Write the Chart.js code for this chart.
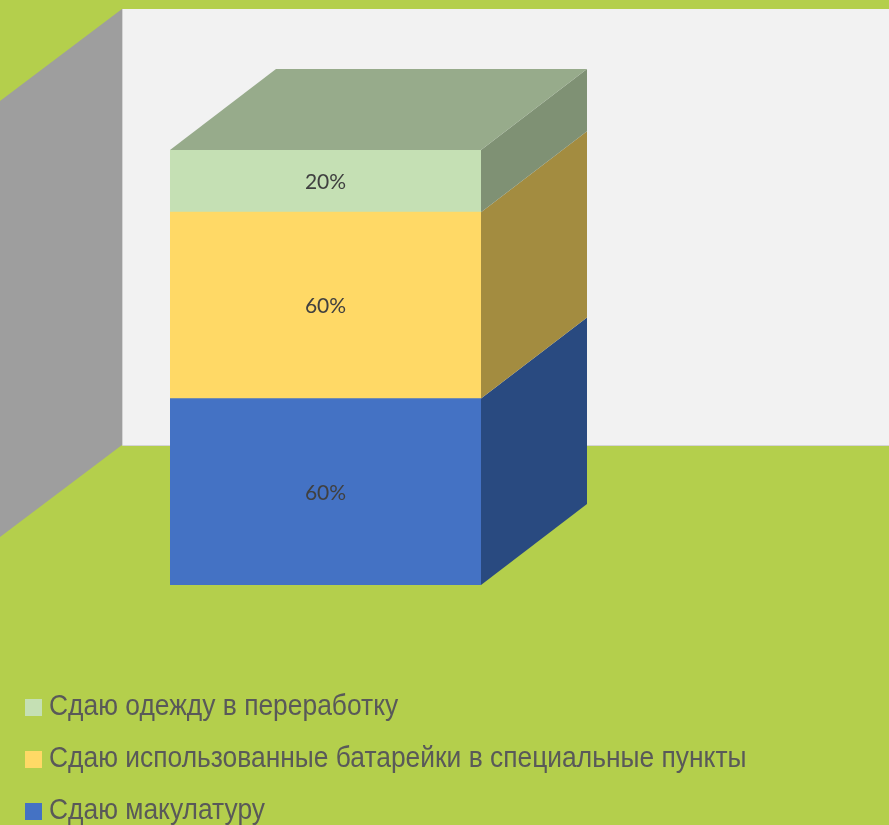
<!DOCTYPE html>
<html lang="ru">
<head>
<meta charset="utf-8">
<title>Диаграмма</title>
<script src="https://cdn.jsdelivr.net/npm/chart.js@4"></script>
<style>
  html, body { margin: 0; padding: 0; width: 889px; height: 825px; overflow: hidden; background: #b4cf4c; }
  #wrap { position: relative; width: 889px; height: 825px; }
  #legend { position: absolute; left: 25px; top: 679px; font-family: "Liberation Sans", sans-serif; font-size: 30px; color: #595959; }
  #legend div { height: 52px; line-height: 52px; white-space: nowrap; }
  #legend .box { display: inline-block; width: 17px; height: 17px; margin-right: 7px; vertical-align: -1px; }
  #legend .txt { display: inline-block; transform: scaleX(0.88); transform-origin: left center; }
</style>
</head>
<body>
<div id="wrap">
  <canvas id="myChart" width="889" height="825"></canvas>
  <div id="legend"></div>
</div>
<script>
const categories = [''];
const seriesNames = ['Сдаю макулатуру', 'Сдаю использованные батарейки в специальные пункты', 'Сдаю одежду в переработку'];
const seriesValues = [[60], [60], [20]];
const seriesColors = ['#4472c4', '#ffd966', '#c5e0b4'];
const sideColors = ['#294a80', '#a38c40', '#7f9174'];
const topColor = '#97ab8b';

const depthX = 106, depthY = 81;

function poly(ctx, pts, fill) {
  ctx.fillStyle = fill;
  ctx.beginPath();
  ctx.moveTo(pts[0][0], pts[0][1]);
  for (let i = 1; i < pts.length; i++) ctx.lineTo(pts[i][0], pts[i][1]);
  ctx.closePath();
  ctx.fill();
}

// задняя стенка и боковая стенка
const wallPlugin = {
  id: 'wall',
  beforeDatasetsDraw(chart) {
    const ctx = chart.ctx, a = chart.chartArea;
    const wallX = a.left - 48, wallTop = a.top - 141, wallBottom = a.bottom - 140;
    const wallDx = 122, wallDy = 92;
    ctx.save();
    poly(ctx, [[0, 0], [889, 0], [889, 825], [0, 825]], '#b4cf4c');
    poly(ctx, [[wallX, wallTop], [889, wallTop], [889, wallBottom], [wallX, wallBottom]], '#f2f2f2');
    poly(ctx, [[wallX, wallTop], [wallX, wallBottom], [wallX - wallDx, wallBottom + wallDy], [wallX - wallDx, wallTop + wallDy]], '#9e9e9e');
    ctx.strokeStyle = '#d4d4d4';
    ctx.beginPath();
    ctx.moveTo(wallX + 0.5, wallTop);
    ctx.lineTo(wallX + 0.5, wallBottom + 0.5);
    ctx.lineTo(889, wallBottom + 0.5);
    ctx.stroke();
    ctx.restore();
  }
};

// боковые и верхняя грани столбика, подписи
const boxPlugin = {
  id: 'box',
  afterDatasetsDraw(chart) {
    const ctx = chart.ctx;
    ctx.save();
    chart.data.datasets.forEach((ds, i) => {
      const bar = chart.getDatasetMeta(i).data[0];
      const right = bar.x + bar.width / 2, left = bar.x - bar.width / 2;
      poly(ctx, [[right, bar.y], [right + depthX, bar.y - depthY], [right + depthX, bar.base - depthY], [right, bar.base]], sideColors[i]);
      if (i === chart.data.datasets.length - 1) {
        poly(ctx, [[left, bar.y], [left + depthX, bar.y - depthY], [right + depthX, bar.y - depthY], [right, bar.y]], topColor);
      }
      ctx.fillStyle = '#404040';
      ctx.font = '21px Lato, "Open Sans", sans-serif';
      ctx.textAlign = 'center';
      ctx.textBaseline = 'middle';
      ctx.fillText(ds.data[0] + '%', bar.x, (bar.y + bar.base) / 2 + 1);
    });
    ctx.restore();
  }
};

const ctx = document.getElementById('myChart').getContext('2d');
const chart = new Chart(ctx, {
  type: 'bar',
  data: {
    labels: categories,
    datasets: seriesNames.map((name, i) => ({
      label: name,
      data: seriesValues[i],
      backgroundColor: seriesColors[i],
      borderWidth: 0,
      barPercentage: 1,
      categoryPercentage: 1
    }))
  },
  options: {
    responsive: false,
    animation: false,
    layout: { padding: { left: 170, right: 408, top: 150, bottom: 240 } },
    plugins: { legend: { display: false }, tooltip: { enabled: false } },
    scales: {
      x: { stacked: true, display: false },
      y: { stacked: true, display: false, min: 0, max: 140 }
    }
  },
  plugins: [wallPlugin, boxPlugin]
});

// легенда: сверху вниз в обратном порядке рядов
const legend = document.getElementById('legend');
chart.data.datasets.slice().reverse().forEach(ds => {
  const row = document.createElement('div');
  const box = document.createElement('span');
  box.className = 'box';
  box.style.background = ds.backgroundColor;
  const txt = document.createElement('span');
  txt.className = 'txt';
  txt.textContent = ds.label;
  row.appendChild(box);
  row.appendChild(txt);
  legend.appendChild(row);
});
</script>
</body>
</html>
